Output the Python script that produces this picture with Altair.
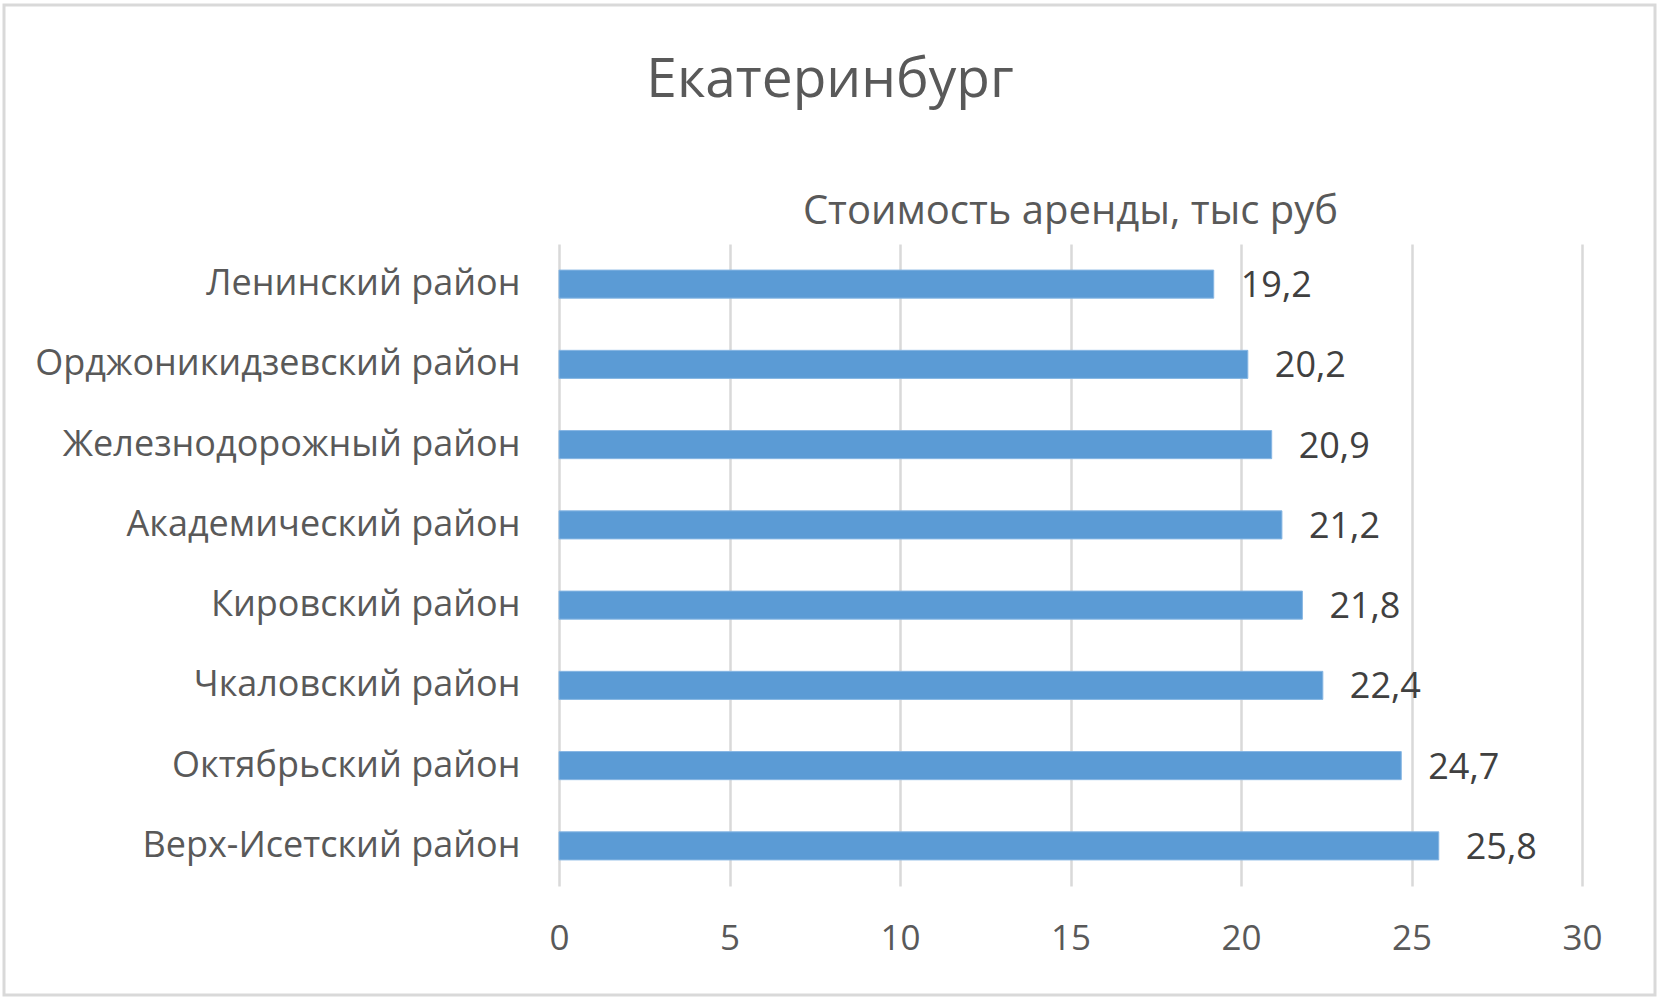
import altair as alt
import pandas as pd

districts = [
    "Ленинский район",
    "Орджоникидзевский район",
    "Железнодорожный район",
    "Академический район",
    "Кировский район",
    "Чкаловский район",
    "Октябрьский район",
    "Верх-Исетский район",
]
rent = [19.2, 20.2, 20.9, 21.2, 21.8, 22.4, 24.7, 25.8]
x_ticks = [0, 5, 10, 15, 20, 25, 30]
chart_title = "Екатеринбург"
series_title = "Стоимость аренды, тыс руб"

df = pd.DataFrame({"district": districts, "rent": rent})
df["label"] = [f"{v:.1f}".replace(".", ",") for v in rent]

W, H = 1023, 642
FONT = "Open Sans"
GREY = "#595959"

y_enc = alt.Y(
    "district:N",
    sort=districts,
    scale=alt.Scale(paddingInner=0.65, paddingOuter=0.325),
    axis=alt.Axis(
        title=None, domain=False, ticks=False, labelFontSize=36, labelColor=GREY,
        labelPadding=39, labelFont=FONT, labelLimit=700,
    ),
)
x_enc = alt.X(
    "rent:Q",
    scale=alt.Scale(domain=[0, 30], nice=False),
    axis=alt.Axis(
        title=None, values=x_ticks, domain=False, ticks=False, grid=True,
        gridColor="#D9D9D9", gridWidth=2.5, labelFontSize=35, labelColor=GREY,
        labelPadding=35, labelFont=FONT, labelFlush=False,
    ),
)

bars = alt.Chart(df).mark_bar(color="#5B9BD5", stroke="#86B6E3", strokeWidth=1).encode(
    x=x_enc, y=y_enc
)
labels = alt.Chart(df).mark_text(
    align="left", baseline="middle", dx=27, dy=2, fontSize=36, font=FONT, color="#404040"
).encode(x="rent:Q", y=alt.Y("district:N", sort=districts), text="label:N")

sub = alt.Chart(pd.DataFrame({"t": [series_title]})).mark_text(
    align="center", baseline="middle", fontSize=40, font=FONT, color=GREY
).encode(x=alt.value(W / 2), y=alt.value(-32), text="t:N")

title = alt.Chart(pd.DataFrame({"t": [chart_title]})).mark_text(
    align="center", baseline="middle", fontSize=55, font=FONT, color=GREY
).encode(x=alt.value(271), y=alt.value(-164), text="t:N")

border = alt.Chart(pd.DataFrame({"a": [0]})).mark_rect(
    fillOpacity=0, stroke="#D9D9D9", strokeWidth=3
).encode(x=alt.value(-555), x2=alt.value(1096), y=alt.value(-239), y2=alt.value(751))

chart = (
    alt.layer(border, bars, labels, sub, title)
    .properties(
        width=W,
        height=H,
        autosize=alt.AutoSizeParams(type="none"),
        padding={"left": 559, "right": 81, "top": 244, "bottom": 117},
        background="white",
    )
    .configure_view(stroke=None)
)

chart.save("out.html", embed_options={"renderer": "svg", "actions": False})
